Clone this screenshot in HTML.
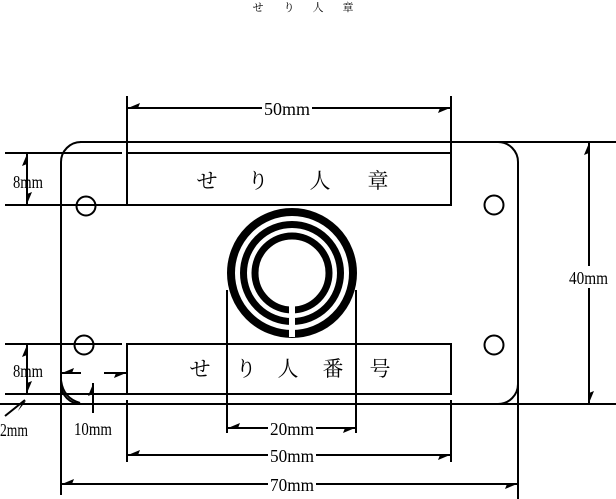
<!DOCTYPE html>
<html><head><meta charset="utf-8"><style>
html,body{margin:0;padding:0;background:#fff;}
svg{display:block;}
text{font-family:"Liberation Serif","Noto Serif CJK SC",serif;fill:#000;}
</style></head><body>
<svg width="616" height="499" viewBox="0 0 616 499" xmlns="http://www.w3.org/2000/svg">
<g stroke="#000" fill="none" stroke-width="2">
<path d="M80 142 H616"/>
<path d="M61 162 A20 20 0 0 1 81 142"/>
<path d="M61 162 V495"/>
<path d="M498 142 A20 20 0 0 1 518 162 V499"/>
<path d="M0 404 H616"/>
<path d="M61 384 A20 20 0 0 0 81 404" />
<path d="M498 404 A20 20 0 0 0 518 384"/>
<path d="M5 153 H122"/>
<path d="M5 205 H451"/>
<rect x="127" y="153" width="324" height="52"/>
<path d="M127 96 V205 M451 96 V205"/>
<path d="M127 108 H451"/>
<path d="M5 344 H122"/>
<path d="M5 394 H451"/>
<rect x="127" y="344" width="324" height="50"/>
<path d="M127 400 V462 M451 400 V462"/>
<path d="M127 455 H451"/>
<path d="M61 484 H518"/>
<path d="M227 290 V433 M356 290 V433"/>
<path d="M227 428 H356"/>
<path d="M589 142 V404"/>
<path d="M27 153 V205"/>
<path d="M27 344 V394"/>
<path d="M5 416 L25 400"/>
<path d="M61 373 H81 M104 373 H127"/>
<path d="M93 383 V413"/>
<path d="M61 380 Q63 398 80 403"/>
<circle cx="86" cy="206" r="9.5"/>
<circle cx="84" cy="345" r="9.5"/>
<circle cx="494" cy="205" r="9.5"/>
<circle cx="494" cy="345" r="9.5"/>
</g>
<g fill="#000">
<path d="M128 108 L140 103 L138 108Z"/>
<path d="M450 108 L438 113 L440 108Z"/>
<path d="M128 455 L140 450 L138 455Z"/>
<path d="M450 455 L438 460 L440 455Z"/>
<path d="M62 484 L74 479 L72 484Z"/>
<path d="M517 484 L505 489 L507 484Z"/>
<path d="M228 428 L240 423 L238 428Z"/>
<path d="M355 428 L343 433 L345 428Z"/>
<path d="M589 143 L584 155 L589 153Z"/>
<path d="M589 403 L594 391 L589 393Z"/>
<path d="M27 154 L22 166 L27 164Z"/>
<path d="M27 204 L32 192 L27 194Z"/>
<path d="M27 345 L22 357 L27 355Z"/>
<path d="M27 393 L32 381 L27 383Z"/>
<path d="M62 373 L74 368 L72 373Z"/>
<path d="M126 373 L114 378 L116 373Z"/>
<path d="M93 384 L88 396 L93 394Z"/>
<path d="M26 401 L18 411 L22 403Z"/>
</g>
<g fill="none" stroke="#000">
<circle cx="292" cy="273" r="61" stroke-width="8"/>
<circle cx="292" cy="273" r="48.5" stroke-width="7"/>
<circle cx="292" cy="273" r="37" stroke-width="7"/>
</g>
<rect x="289" y="305" width="6" height="32" fill="#fff"/>
<g fill="#fff">
<rect x="262" y="98" width="50" height="20"/>
<rect x="268" y="418" width="48" height="20"/>
<rect x="268" y="445" width="48" height="20"/>
<rect x="268" y="474" width="48" height="20"/>
<rect x="566" y="266" width="44" height="22"/>
</g>
<g font-size="18">
<text x="264" y="115" textLength="46" lengthAdjust="spacingAndGlyphs">50mm</text>
<text x="270" y="435" textLength="44" lengthAdjust="spacingAndGlyphs">20mm</text>
<text x="270" y="462" textLength="44" lengthAdjust="spacingAndGlyphs">50mm</text>
<text x="270" y="491" textLength="44" lengthAdjust="spacingAndGlyphs">70mm</text>
<text x="569" y="284" textLength="39" lengthAdjust="spacingAndGlyphs">40mm</text>
<text x="13" y="188" textLength="30" lengthAdjust="spacingAndGlyphs">8mm</text>
<text x="13" y="377" textLength="30" lengthAdjust="spacingAndGlyphs">8mm</text>
<text x="0" y="436" textLength="28" lengthAdjust="spacingAndGlyphs">2mm</text>
<text x="74" y="435" textLength="38" lengthAdjust="spacingAndGlyphs">10mm</text>
</g>
<g font-family="'Noto Serif CJK JP','Noto Serif CJK SC',serif" text-anchor="middle">
<g font-size="11">
<text x="258" y="11">せ</text><text x="289" y="11">り</text><text x="318" y="11">人</text><text x="348" y="11">章</text>
</g>
<g font-size="21">
<text x="207" y="188">せ</text><text x="258" y="188">り</text><text x="320" y="188">人</text><text x="378" y="188">章</text>
<text x="200" y="376">せ</text><text x="246" y="376">り</text><text x="288" y="376">人</text><text x="333" y="376">番</text><text x="380" y="376">号</text>
</g>
</g>
</svg>
</body></html>
